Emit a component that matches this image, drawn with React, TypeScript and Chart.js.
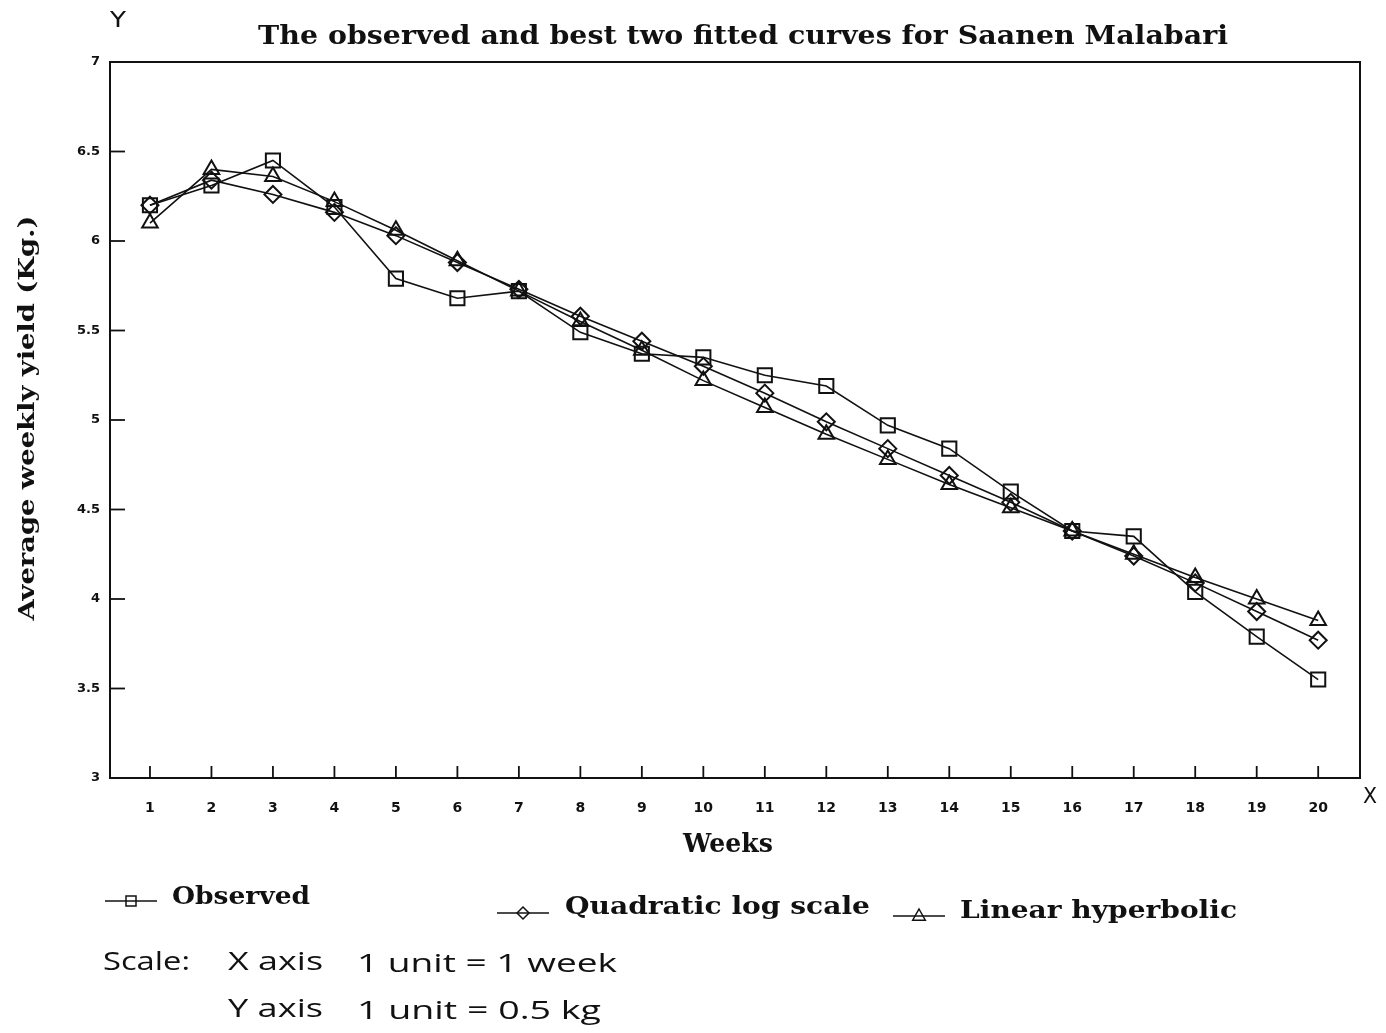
import React, { useEffect, useRef } from "react";
import { Chart, registerables } from "chart.js";

Chart.register(...registerables);

const weeks = [1, 2, 3, 4, 5, 6, 7, 8, 9, 10, 11, 12, 13, 14, 15, 16, 17, 18, 19, 20];
const xTickLabels = ["1", "2", "3", "4", "5", "6", "7", "8", "9", "10", "11", "12", "13", "14", "15", "16", "17", "18", "19", "20"];
const yTickValues = [3, 3.5, 4, 4.5, 5, 5.5, 6, 6.5, 7];
const yTickLabels = ["3", "3.5", "4", "4.5", "5", "5.5", "6", "6.5", "7"];

const observed = [6.2, 6.31, 6.45, 6.19, 5.79, 5.68, 5.72, 5.49, 5.37, 5.35, 5.25, 5.19, 4.97, 4.84, 4.6, 4.38, 4.35, 4.04, 3.79, 3.55];
const quadraticLog = [6.2, 6.34, 6.26, 6.16, 6.03, 5.88, 5.73, 5.58, 5.44, 5.3, 5.15, 4.99, 4.84, 4.69, 4.54, 4.38, 4.24, 4.09, 3.93, 3.77];
const linearHyperbolic = [6.1, 6.4, 6.36, 6.22, 6.06, 5.89, 5.72, 5.55, 5.39, 5.22, 5.07, 4.92, 4.78, 4.64, 4.51, 4.38, 4.25, 4.12, 4.0, 3.88];

const seriesNames = ["Observed", "Quadratic log scale", "Linear hyperbolic"];
const titleText = "The observed and best two fitted curves for Saanen Malabari";
const xTitle = "Weeks";
const yTitle = "Average weekly yield (Kg.)";
const scaleLines = [
  ["Scale:", "X axis", "1 unit = 1 week"],
  ["", "Y axis", "1 unit = 0.5 kg"],
];

const INK = "#111";

function fitText(ctx: CanvasRenderingContext2D, text: string, x: number, y: number, font: string, width: number, rotate = false) {
  ctx.save();
  ctx.font = font;
  ctx.fillStyle = INK;
  ctx.textBaseline = "middle";
  const w = ctx.measureText(text).width;
  const s = width / w;
  ctx.translate(x, y);
  if (rotate) {
    ctx.rotate(-Math.PI / 2);
    ctx.scale(s, 1);
    ctx.textAlign = "center";
    ctx.fillText(text, 0, 0);
  } else {
    ctx.scale(s, 1);
    ctx.textAlign = "left";
    ctx.fillText(text, 0, 0);
  }
  ctx.restore();
}

function marker(ctx: CanvasRenderingContext2D, style: string, x: number, y: number, r: number) {
  ctx.beginPath();
  if (style === "rect") {
    ctx.rect(x - r, y - r, 2 * r, 2 * r);
  } else if (style === "rectRot") {
    ctx.moveTo(x - r, y);
    ctx.lineTo(x, y - r);
    ctx.lineTo(x + r, y);
    ctx.lineTo(x, y + r);
    ctx.closePath();
  } else {
    ctx.moveTo(x, y - r);
    ctx.lineTo(x + r * 0.9, y + r * 0.6);
    ctx.lineTo(x - r * 0.9, y + r * 0.6);
    ctx.closePath();
  }
  ctx.stroke();
}

const decorPlugin = {
  id: "decor",
  afterDraw(chart: any) {
    const ctx: CanvasRenderingContext2D = chart.ctx;
    const { left, right, top, bottom } = chart.chartArea;
    const xs = chart.scales.x;
    const ys = chart.scales.y;
    ctx.save();
    ctx.strokeStyle = INK;
    ctx.lineWidth = 2;
    ctx.beginPath();
    ctx.moveTo(left, top);
    ctx.lineTo(right, top);
    ctx.lineTo(right, bottom);
    ctx.stroke();
    ctx.lineWidth = 1.8;
    weeks.forEach((w) => {
      const px = xs.getPixelForValue(w);
      ctx.beginPath();
      ctx.moveTo(px, bottom);
      ctx.lineTo(px, bottom - 12);
      ctx.stroke();
    });
    yTickValues.forEach((v) => {
      if (v === 3 || v === 7) return;
      const py = ys.getPixelForValue(v);
      ctx.beginPath();
      ctx.moveTo(left, py);
      ctx.lineTo(left + 15, py);
      ctx.stroke();
    });
    ctx.restore();

    fitText(ctx, titleText, 250, 29, "bold 26px 'DejaVu Serif'", 970);
    fitText(ctx, "Y", 102, 13, "22px 'DejaVu Sans'", 16);
    fitText(ctx, "X", 1355, 789, "22px 'DejaVu Sans'", 14);
    fitText(ctx, xTitle, 675, 837, "bold 26px 'DejaVu Serif'", 90);
    fitText(ctx, yTitle, 20, 410, "bold 23px 'DejaVu Serif'", 405, true);

    const leg = [
      { style: "rect", lx: 97, ly: 893, r: 5, tx: 164, ty: 889, tw: 138 },
      { style: "rectRot", lx: 489, ly: 905, r: 6, tx: 557, ty: 899, tw: 305 },
      { style: "tri", lx: 885, ly: 908, r: 7, tx: 952, ty: 903, tw: 277 },
    ];
    ctx.save();
    ctx.strokeStyle = INK;
    ctx.lineWidth = 1.5;
    leg.forEach((l, i) => {
      ctx.beginPath();
      ctx.moveTo(l.lx, l.ly);
      ctx.lineTo(l.lx + 52, l.ly);
      ctx.stroke();
      marker(ctx, l.style, l.lx + 26, l.ly, l.r);
      fitText(ctx, seriesNames[i], l.tx, l.ty, "bold 25px 'DejaVu Serif'", l.tw);
    });
    ctx.restore();

    const font = "25px 'Open Sans'";
    fitText(ctx, scaleLines[0][0], 95, 955, font, 87);
    fitText(ctx, scaleLines[0][1], 220, 955, font, 95);
    fitText(ctx, scaleLines[0][2], 349, 957, font, 260);
    fitText(ctx, scaleLines[1][1], 220, 1002, font, 95);
    fitText(ctx, scaleLines[1][2], 349, 1004, font, 244);
  },
};

export default function App() {
  const ref = useRef<HTMLCanvasElement | null>(null);
  useEffect(() => {
    if (!ref.current) return;
    const mk = (label: string, vals: number[], style: string, r: number) => ({
      label,
      data: weeks.map((w, i) => ({ x: w, y: vals[i] })),
      borderColor: INK,
      borderWidth: 1.6,
      pointStyle: style,
      pointRadius: r,
      pointBorderWidth: 2,
      pointBorderColor: INK,
      pointBackgroundColor: "rgba(0,0,0,0)",
      tension: 0,
      fill: false,
    });
    const chart = new Chart(ref.current, {
      type: "line",
      data: {
        datasets: [
          mk(seriesNames[0], observed, "rect", 10),
          mk(seriesNames[1], quadraticLog, "rectRot", 8.5),
          mk(seriesNames[2], linearHyperbolic, "triangle", 9),
        ],
      },
      options: {
        animation: false,
        responsive: true,
        maintainAspectRatio: false,
        layout: { padding: { top: 54, right: 18, bottom: 162, left: 0 } },
        plugins: { legend: { display: false }, title: { display: false }, tooltip: { enabled: false } },
        scales: {
          x: {
            type: "linear",
            min: 0.35,
            max: 20.68,
            afterBuildTicks: (s: any) => {
              s.ticks = weeks.map((w) => ({ value: w }));
            },
            afterFit: (s: any) => {
              s.height = 85;
            },
            ticks: {
              autoSkip: false,
              maxRotation: 0,
              padding: 22,
              color: INK,
              font: { family: "'DejaVu Sans'", weight: "bold", size: 14 },
              callback: (v: any) => xTickLabels[weeks.indexOf(Number(v))] ?? "",
            },
            grid: { drawOnChartArea: false, drawTicks: false },
            border: { color: INK, width: 2 },
          },
          y: {
            type: "linear",
            min: 3,
            max: 7,
            afterBuildTicks: (s: any) => {
              s.ticks = yTickValues.map((v) => ({ value: v }));
            },
            afterFit: (s: any) => {
              s.width = 102;
            },
            ticks: {
              padding: 10,
              color: INK,
              font: { family: "'DejaVu Sans'", weight: "bold", size: 13 },
              callback: (v: any) => yTickLabels[yTickValues.indexOf(Number(v))] ?? "",
            },
            grid: { drawOnChartArea: false, drawTicks: false },
            border: { color: INK, width: 2 },
          },
        },
      },
      plugins: [decorPlugin],
    } as any);
    return () => chart.destroy();
  }, []);
  return (
    <div style={{ width: 1370, height: 1017, position: "relative", background: "#fff" }}>
      <canvas ref={ref} />
    </div>
  );
}
